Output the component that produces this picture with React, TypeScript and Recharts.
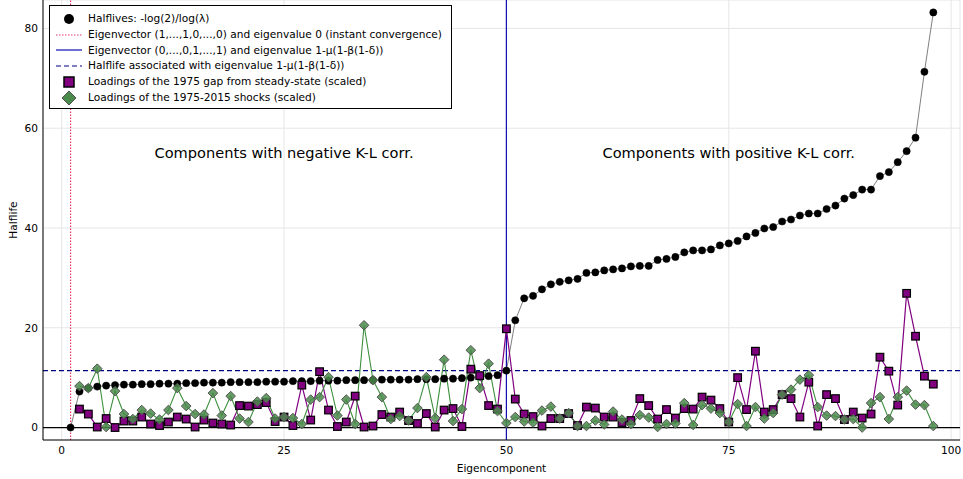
import React from 'react';
import {
  ComposedChart, Line, XAxis, YAxis, CartesianGrid, ReferenceLine, ReferenceDot,
} from 'recharts';

const components: number[] = Array.from({ length: 98 }, (_, i) => i + 1);

const halflives: number[] = [
  0, 7.2, 7.9, 8.2, 8.4, 8.5, 8.6, 8.6, 8.7, 8.7,
  8.8, 8.8, 8.8, 8.9, 8.9, 9.0, 9.0, 9.0, 9.1, 9.1,
  9.1, 9.1, 9.2, 9.2, 9.2, 9.3, 9.3, 9.3, 9.4, 9.4,
  9.4, 9.5, 9.5, 9.5, 9.5, 9.6, 9.6, 9.6, 9.6, 9.7,
  9.7, 9.7, 9.8, 9.8, 9.9, 10.0, 10.2, 10.3, 10.5, 11.4,
  21.5, 25.9, 26.4, 27.7, 28.7, 29.2, 29.5, 29.8, 31.0, 31.1,
  31.5, 31.7, 31.9, 32.3, 32.4, 32.4, 33.6, 33.8, 34.2, 35.1,
  35.5, 35.5, 35.7, 36.5, 36.9, 37.4, 38.3, 39.0, 39.9, 40.2,
  41.3, 41.7, 42.5, 42.9, 42.9, 43.8, 44.5, 45.9, 46.6, 47.7,
  47.7, 50.4, 51.2, 53.2, 55.4, 58.1, 71.3, 83.2,
];

const gapLoadings: (number | null)[] = [
  null, 3.7, 2.7, 0.1, 1.8, 0.0, 1.3, 1.3, 2.1, 0.7,
  0.4, 1.1, 2.1, 1.7, 0.1, 1.5, 0.9, 0.7, 0.5, 4.4,
  4.3, 4.6, 5.0, 1.2, 2.1, 0.4, 8.5, 1.5, 11.2, 3.5,
  0.2, 1.1, 6.3, 0.1, 0.3, 2.6, 2.1, 3.1, 1.4, 0.8,
  2.8, 0.1, 3.5, 3.8, 0.2, 11.7, 10.4, 4.4, 3.7, 19.8,
  5.7, 2.7, 2.2, 0.3, 1.8, 1.8, 2.8, 0.4, 4.1, 3.9,
  2.1, 2.1, 1.0, 1.4, 5.8, 4.4, 1.7, 3.6, 1.9, 3.8,
  3.7, 6.1, 5.5, 3.8, 1.1, 10.0, 3.6, 15.3, 3.1, 3.6,
  6.6, 5.8, 2.1, 9.1, 0.3, 6.6, 5.8, 1.6, 3.1, 1.9,
  2.7, 14.1, 11.3, 4.5, 26.9, 18.3, 10.3, 8.7,
];

const shockLoadings: (number | null)[] = [
  null, 8.3, 7.9, 11.8, 0.1, 7.3, 2.7, 1.7, 3.5, 2.8,
  1.6, 3.5, 7.9, 4.3, 2.7, 2.6, 6.9, 2.4, 6.3, 1.8,
  1.1, 5.2, 5.9, 1.8, 2.1, 1.9, 0.7, 5.6, 6.1, 10.1,
  2.4, 5.6, 0.7, 20.5, 9.5, 6.1, 1.7, 2.3, 1.4, 3.9,
  10.1, 1.9, 13.6, 1.3, 3.7, 15.5, 7.9, 12.8, 3.3, 0.9,
  2.1, 1.2, 1.0, 3.4, 4.2, 1.8, 2.9, 0.3, 0.3, 1.4,
  0.6, 3.2, 1.6, 0.7, 2.5, 2.0, 0.1, 0.7, 0.8, 4.9,
  0.5, 4.5, 3.8, 2.9, 1.1, 4.7, 0.3, 4.1, 1.8, 2.9,
  6.6, 7.6, 9.6, 10.5, 4.1, 2.4, 2.3, 1.6, 1.7, 0.0,
  4.9, 6.1, 1.7, 6.1, 7.4, 4.6, 4.5, 0.3,
];

const xTicks = [0, 25, 50, 75, 100];
const yTicks = [0, 20, 40, 60, 80];
const instantComponent = 1;
const splitComponent = 50;
const splitHalflife = 11.4;

const legendItems = [
  { kind: 'dot', label: 'Halflives: -log(2)/log(λ)' },
  { kind: 'dotted', label: 'Eigenvector (1,...,1,0,...,0) and eigenvalue 0 (instant convergence)' },
  { kind: 'solid', label: 'Eigenvector (0,...,0,1,...,1) and eigenvalue 1-μ(1-β(1-δ))' },
  { kind: 'dashed', label: 'Halflife associated with eigenvalue 1-μ(1-β(1-δ))' },
  { kind: 'square', label: 'Loadings of the 1975 gap from steady-state (scaled)' },
  { kind: 'diamond', label: 'Loadings of the 1975-2015 shocks (scaled)' },
];

const data = components.map((x, i) => ({
  x,
  h: halflives[i],
  p: gapLoadings[i],
  g: shockLoadings[i],
}));

const FONT = '"DejaVu Sans", sans-serif';
const PURPLE = '#800080';
const GREEN_LINE = '#3d8f3d';
const GREEN_FILL = '#4a8a4a';
const PINK = '#e8386a';
const BLUE = '#1010b0';
const NAVY = '#000080';

const CircleDot = (props: any) => {
  const { cx, cy, index } = props;
  if (cx == null || cy == null) return <g key={`c${index}`} />;
  return <circle key={`c${index}`} cx={cx} cy={cy} r={3.6} fill="#000" stroke="#000" strokeWidth={0.5} />;
};

const SquareDot = (props: any) => {
  const { cx, cy, index } = props;
  if (cx == null || cy == null) return <g key={`s${index}`} />;
  return <rect key={`s${index}`} x={cx - 3.8} y={cy - 3.8} width={7.6} height={7.6} fill={PURPLE} stroke="#000" strokeWidth={1.2} />;
};

const DiamondDot = (props: any) => {
  const { cx, cy, index } = props;
  if (cx == null || cy == null) return <g key={`d${index}`} />;
  const r = 4.8;
  return (
    <path
      key={`d${index}`}
      d={`M${cx},${cy - r} L${cx + r},${cy} L${cx},${cy + r} L${cx - r},${cy} Z`}
      fill={GREEN_FILL}
      fillOpacity={0.85}
      stroke="#555"
      strokeWidth={1}
    />
  );
};

const LegendMarker = ({ kind }: { kind: string }) => {
  const w = 30;
  const h = 14;
  const cx = 15;
  const cy = 7;
  let el: React.ReactNode = null;
  if (kind === 'dot') el = <circle cx={cx} cy={cy} r={5} fill="#000" />;
  if (kind === 'dotted') el = <line x1={2} x2={28} y1={cy} y2={cy} stroke={PINK} strokeWidth={1.2} strokeDasharray="1.5 1.5" />;
  if (kind === 'solid') el = <line x1={2} x2={28} y1={cy} y2={cy} stroke={BLUE} strokeWidth={1.2} />;
  if (kind === 'dashed') el = <line x1={2} x2={28} y1={cy} y2={cy} stroke={NAVY} strokeWidth={1.2} strokeDasharray="5 3" />;
  if (kind === 'square') el = <rect x={cx - 5} y={cy - 5} width={10} height={10} fill={PURPLE} stroke="#000" strokeWidth={1.5} />;
  if (kind === 'diamond') el = <path d={`M${cx},${cy - 7} L${cx + 7},${cy} L${cx},${cy + 7} L${cx - 7},${cy} Z`} fill={GREEN_FILL} stroke="#555" strokeWidth={1} />;
  return <svg width={w} height={h} style={{ display: 'block' }}>{el}</svg>;
};

export default function App() {
  return (
    <div style={{ position: 'absolute', left: 0, top: 0, width: 963, height: 479, background: '#fff', fontFamily: FONT }}>
      <ComposedChart
        width={963}
        height={479}
        data={data}
        margin={{ top: 0, right: 3, bottom: 0, left: 0 }}
      >
        <CartesianGrid stroke="#e6e6e6" strokeWidth={1} />
        <XAxis
          type="number"
          dataKey="x"
          domain={[-2.1, 101]}
          ticks={xTicks}
          allowDataOverflow
          height={39}
          tickSize={0}
          tickMargin={6}
          axisLine={{ stroke: '#000' }}
          tick={{ fill: '#000', fontSize: 10.6, fontFamily: FONT }}
          label={{ value: 'Eigencomponent', position: 'insideBottom', offset: 7, fill: '#000', fontSize: 10.6, fontFamily: FONT }}
        />
        <YAxis
          type="number"
          domain={[-2.5, 85.7]}
          ticks={yTicks}
          allowDataOverflow
          width={43}
          tickSize={0}
          tickMargin={5}
          axisLine={{ stroke: '#000' }}
          tick={{ fill: '#000', fontSize: 10.6, fontFamily: FONT }}
          label={{ value: 'Halflife', angle: -90, position: 'center', dx: -8, fill: '#000', fontSize: 10.6, fontFamily: FONT }}
        />
        <ReferenceLine y={0} stroke="#000" strokeWidth={1.2} />
        <Line
          dataKey="h"
          type="linear"
          stroke="#808080"
          strokeWidth={1}
          dot={CircleDot}
          activeDot={false}
          isAnimationActive={false}
        />
        <ReferenceLine x={instantComponent} stroke={PINK} strokeWidth={1.2} strokeDasharray="1.5 1.5" />
        <ReferenceLine x={splitComponent} stroke={BLUE} strokeWidth={1.2} />
        <ReferenceLine y={splitHalflife} stroke={NAVY} strokeWidth={1.2} strokeDasharray="5 3" />
        <Line
          dataKey="p"
          type="linear"
          stroke={PURPLE}
          strokeWidth={1.2}
          dot={SquareDot}
          activeDot={false}
          isAnimationActive={false}
        />
        <Line
          dataKey="g"
          type="linear"
          stroke={GREEN_LINE}
          strokeWidth={1.1}
          dot={DiamondDot}
          activeDot={false}
          isAnimationActive={false}
        />
        <ReferenceDot
          x={25}
          y={55}
          r={0}
          fill="none"
          stroke="none"
          label={{ value: 'Components with negative K-L corr.', position: 'center', fill: '#000', fontSize: 14.6, fontFamily: FONT }}
        />
        <ReferenceDot
          x={75}
          y={55}
          r={0}
          fill="none"
          stroke="none"
          label={{ value: 'Components with positive K-L corr.', position: 'center', fill: '#000', fontSize: 14.6, fontFamily: FONT }}
        />
      </ComposedChart>
      <div
        style={{
          position: 'absolute',
          left: 49,
          top: 5,
          width: 403,
          height: 104,
          border: '1px solid #000',
          background: '#fff',
          boxSizing: 'border-box',
          paddingTop: 5,
        }}
      >
        {legendItems.map((it) => (
          <div key={it.label} style={{ display: 'flex', alignItems: 'center', height: 15.8 }}>
            <div style={{ marginLeft: 4, width: 30 }}>
              <LegendMarker kind={it.kind} />
            </div>
            <span style={{ marginLeft: 4, fontSize: 10.6, color: '#000', whiteSpace: 'nowrap', lineHeight: '15.8px' }}>{it.label}</span>
          </div>
        ))}
      </div>
    </div>
  );
}
